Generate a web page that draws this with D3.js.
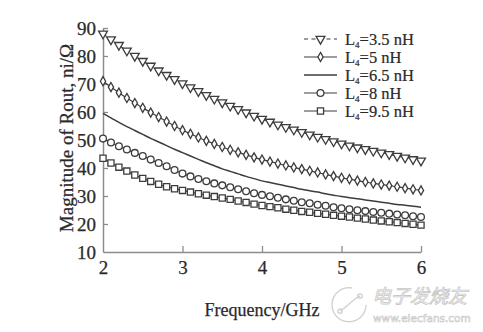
<!DOCTYPE html>
<html>
<head>
<meta charset="utf-8">
<script src="https://cdn.jsdelivr.net/npm/d3@7"></script>
<style>
  html, body { margin: 0; padding: 0; background: #fff; }
  svg { display: block; }
  text { font-family: "Liberation Serif", "Times New Roman", serif; }
</style>
</head>
<body>
<svg id="chart" width="483" height="332"></svg>
<script>
// Frequency sweep (GHz)
const freq = [2.0,2.1,2.2,2.3,2.4,2.5,2.6,2.7,2.8,2.9,3.0,3.1,3.2,3.3,3.4,3.5,3.6,3.7,3.8,3.9,
              4.0,4.1,4.2,4.3,4.4,4.5,4.6,4.7,4.8,4.9,5.0,5.1,5.2,5.3,5.4,5.5,5.6,5.7,5.8,5.9,6.0];

// |Rout| for each L4 value
const rout35 = [88.0,85.9,83.9,81.9,80.0,78.2,76.5,74.8,73.2,71.7,70.2,68.8,67.4,66.0,64.7,63.4,62.2,61.0,59.8,58.6,
                57.5,56.5,55.5,54.6,53.7,52.8,51.9,51.1,50.3,49.5,48.7,48.0,47.3,46.7,46.1,45.5,44.9,44.3,43.7,43.1,42.6];
const rout5  = [71.0,68.9,66.9,65.0,63.2,61.5,59.8,58.2,56.6,55.0,53.5,52.2,50.9,49.7,48.6,47.5,46.5,45.6,44.7,43.8,
                43.0,42.3,41.6,40.9,40.2,39.6,39.0,38.4,37.7,37.1,36.5,36.0,35.5,35.0,34.5,34.1,33.7,33.3,32.8,32.4,32.0];
const rout65 = [59.5,57.9,56.3,54.8,53.4,52.0,50.6,49.3,48.0,46.7,45.5,44.3,43.1,41.9,40.8,39.7,38.8,37.9,37.0,36.2,
                35.4,34.8,34.2,33.6,33.0,32.4,31.9,31.4,30.8,30.3,29.8,29.4,29.0,28.6,28.2,27.8,27.4,27.0,26.7,26.3,26.0];
const rout8  = [50.5,49.1,47.8,46.6,45.4,44.3,43.0,41.8,40.6,39.3,38.0,37.0,36.1,35.3,34.5,33.8,33.1,32.4,31.7,31.0,
                30.4,29.9,29.4,28.8,28.3,27.8,27.4,26.9,26.5,26.0,25.6,25.3,24.9,24.6,24.3,24.0,23.7,23.4,23.1,22.8,22.5];
const rout95 = [43.5,41.8,40.3,38.9,37.5,36.3,35.2,34.2,33.3,32.6,32.0,31.4,30.8,30.3,29.8,29.3,28.8,28.2,27.7,27.1,
                26.6,26.2,25.8,25.3,24.9,24.5,24.2,23.8,23.5,23.1,22.8,22.5,22.1,21.8,21.4,21.1,20.8,20.5,20.2,19.9,19.6];

// Legend entries
const seriesValue = ["3.5", "5", "6.5", "8", "9.5"];
const seriesMarker = ["triangle", "diamond", "none", "circle", "square"];

// Axis ticks
const xTicks = [2, 3, 4, 5, 6];
const yTicks = [10, 20, 30, 40, 50, 60, 70, 80, 90];

const seriesData = [rout35, rout5, rout65, rout8, rout95];

const svg = d3.select("#chart");
const margin = { top: 28, right: 62, bottom: 80, left: 103 };
const W = 483, H = 332;

const x = d3.scaleLinear().domain([2, 6]).range([margin.left, W - margin.right]);
const y = d3.scaleLinear().domain([10, 90]).range([H - margin.bottom, margin.top]);

const axisColor = "#8c8c8c";
const inkColor = "#3c3c3c";
const textColor = "#2a2a2a";

// Axes: inward ticks, no outer ticks
const gx = svg.append("g")
  .attr("transform", `translate(0,${y(10)})`)
  .call(d3.axisBottom(x).tickValues(xTicks).tickFormat(d3.format("d"))
        .tickSizeInner(-6).tickSizeOuter(0).tickPadding(9));
const gy = svg.append("g")
  .attr("transform", `translate(${x(2)},0)`)
  .call(d3.axisLeft(y).tickValues(yTicks).tickFormat(d3.format("d"))
        .tickSizeInner(-5).tickSizeOuter(0).tickPadding(7));

[gx, gy].forEach(g => {
  g.select(".domain").attr("stroke", axisColor).attr("stroke-width", 1.5);
  g.selectAll(".tick line").attr("stroke", axisColor).attr("stroke-width", 1.3);
  g.selectAll(".tick text")
    .attr("fill", textColor)
    .attr("stroke", textColor).attr("stroke-width", 0.25)
    .style("font-family", '"Liberation Serif", "Times New Roman", serif')
    .style("font-size", "19px");
});
gx.selectAll(".tick").filter(d => d === 2).select("line").remove();
gy.selectAll(".tick").filter(d => d === 10).select("line").remove();

// Axis titles
svg.append("text")
  .attr("x", x(4)).attr("y", 316)
  .attr("text-anchor", "middle")
  .attr("fill", textColor).attr("stroke", textColor).attr("stroke-width", 0.25)
  .style("font-size", "18px")
  .text("Frequency/GHz");

svg.append("text")
  .attr("transform", `translate(73,${y(50) - 2}) rotate(-90)`)
  .attr("text-anchor", "middle")
  .attr("fill", textColor).attr("stroke", textColor).attr("stroke-width", 0.25)
  .style("font-size", "19px")
  .text("Magnitude of Rout, ni/Ω");

// Marker drawing
const sym = {
  triangle: d3.symbol().type(d3.symbolTriangle).size(34),
  diamond: d3.symbol().type(d3.symbolDiamond).size(24),
  circle: d3.symbol().type(d3.symbolCircle).size(36),
  square: d3.symbol().type(d3.symbolSquare).size(38)
};
function drawMarker(g, type, cx, cy) {
  if (type === "none") return;
  g.append("path")
    .attr("d", sym[type]())
    .attr("transform", `translate(${cx},${cy})${type === "triangle" ? " rotate(180)" : ""}`)
    .attr("fill", "#fff")
    .attr("stroke", inkColor)
    .attr("stroke-width", 1.3);
}

const line = d3.line().curve(d3.curveMonotoneX);

seriesData.forEach((vals, i) => {
  const pts = freq.map((f, k) => [x(f), y(vals[k])]);
  const g = svg.append("g");
  g.append("path")
    .attr("d", line(pts))
    .attr("fill", "none")
    .attr("stroke", inkColor)
    .attr("stroke-width", i === 2 ? 1.5 : 1.2)
    .attr("stroke-dasharray", i === 0 ? "4,3" : null);
  pts.forEach(p => drawMarker(g, seriesMarker[i], p[0], p[1]));
});

// Legend
const legend = svg.append("g");
seriesValue.forEach((v, i) => {
  const ly = 39 + i * 18;
  const row = legend.append("g");
  row.append("line")
    .attr("x1", 304).attr("x2", 337).attr("y1", ly).attr("y2", ly)
    .attr("stroke", inkColor)
    .attr("stroke-width", i === 2 ? 1.5 : 1.2)
    .attr("stroke-dasharray", i === 0 ? "4,3.5" : null);
  drawMarker(row, seriesMarker[i], 320.5, ly);
  const t = row.append("text")
    .attr("x", 345).attr("y", ly + 6)
    .attr("fill", textColor).attr("stroke", textColor).attr("stroke-width", 0.2)
    .style("font-size", "16.5px");
  t.append("tspan").text("L");
  t.append("tspan").attr("dy", 3).style("font-size", "9px").text("4");
  t.append("tspan").attr("dy", -3).text(`=${v} nH`);
});

// Site mark, lower right
const mark = svg.append("g").attr("fill", "none").attr("stroke", "#cfcfcf").attr("stroke-width", 1.3);
mark.append("path").attr("d", "M 352 288 A 17 17 0 1 0 366 305");
mark.append("path").attr("d", "M 340 311 C 348 306, 352 300, 360 296");
mark.append("circle").attr("cx", 340).attr("cy", 311).attr("r", 2.2);
mark.append("circle").attr("cx", 360).attr("cy", 296).attr("r", 2.2);
svg.append("text")
  .attr("x", 372).attr("y", 303)
  .attr("fill", "#fff").attr("stroke", "#c8c8c8").attr("stroke-width", 0.8)
  .style("font-family", '"Noto Sans CJK SC", sans-serif')
  .style("font-size", "19px")
  .style("font-style", "italic")
  .text("电子发烧友");
svg.append("text")
  .attr("x", 373).attr("y", 322)
  .attr("fill", "#fff").attr("stroke", "#c8c8c8").attr("stroke-width", 0.6)
  .style("font-family", '"DejaVu Sans", sans-serif')
  .style("font-size", "10.5px")
  .text("www.elecfans.com");
</script>
</body>
</html>
